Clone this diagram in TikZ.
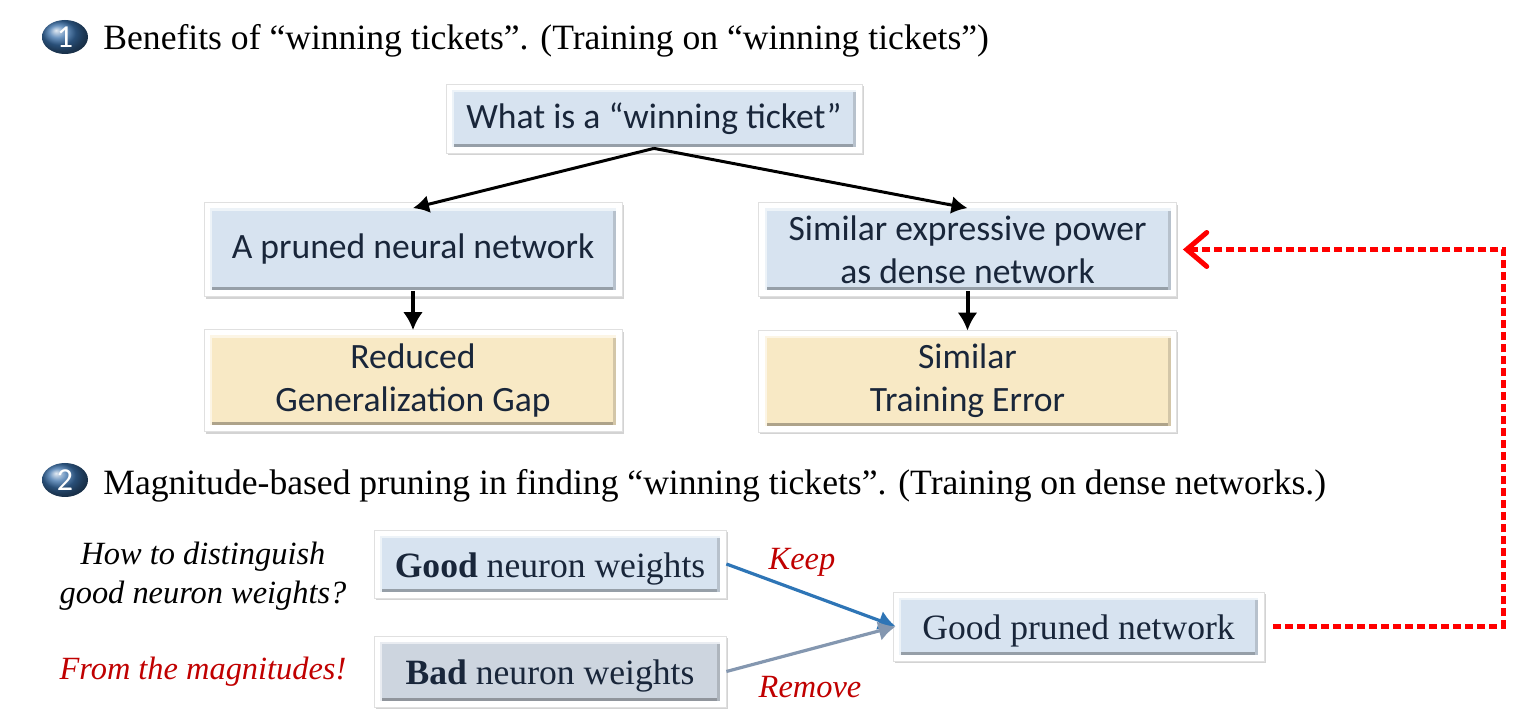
\documentclass[tikz,border=0pt]{standalone}
\usepackage{fontspec}
\setmainfont{Liberation Serif}
\newfontfamily\calfont{Carlito}
\usetikzlibrary{arrows.meta,shadows,shapes.geometric}

\definecolor{boxblue}{RGB}{215,227,240}
\definecolor{boxsand}{RGB}{248,233,197}
\definecolor{boxgrey}{RGB}{205,213,223}
\definecolor{inkblue}{RGB}{25,38,58}
\definecolor{keepblue}{RGB}{46,117,182}
\definecolor{dropgrey}{RGB}{132,151,176}
\definecolor{notered}{RGB}{192,0,0}
\definecolor{badgeblue}{RGB}{58,112,170}

\tikzset{
	panel/.style={fill=white, draw=black!12, inner sep=0pt,
		drop shadow={shadow xshift=0.8pt, shadow yshift=-1.2pt, opacity=0.35},
		path picture={
			\fill[#1] ([shift={(3pt,-3pt)}]path picture bounding box.north west) rectangle ([shift={(-3pt,3pt)}]path picture bounding box.south east);
			\fill[#1!70!black] ([shift={(3pt,3pt)}]path picture bounding box.south west) rectangle ([shift={(-3pt,4.5pt)}]path picture bounding box.south east);
			\fill[#1!85!black] ([shift={(-4.5pt,-3pt)}]path picture bounding box.north east) rectangle ([shift={(-3pt,3pt)}]path picture bounding box.south east);
			\fill[white!55!#1] ([shift={(3pt,-3pt)}]path picture bounding box.north west) rectangle ([shift={(-3pt,-4.2pt)}]path picture bounding box.north east);
			\fill[white!55!#1] ([shift={(3pt,-3pt)}]path picture bounding box.north west) rectangle ([shift={(4.2pt,3pt)}]path picture bounding box.south west);
		}},
	calbox/.style={panel=#1, text=inkblue, align=center, font=\calfont\fontsize{17.8}{21.5}\selectfont},
	romanbox/.style={panel=#1, text=inkblue, text height=17pt, text depth=3.9pt, font=\fontsize{17.8}{21}\selectfont},
	badge/.style={ellipse, ball color=badgeblue, inner sep=0pt, minimum width=23pt, minimum height=17pt, text=white, font=\calfont\fontsize{16}{16}\selectfont},
	heading/.style={anchor=base west, inner sep=0pt, font=\fontsize{17.8}{21}\selectfont},
	note/.style={align=center, font=\itshape\fontsize{16.2}{19.5}\selectfont},
	tree/.style={->, >={Latex[length=8pt,width=9pt]}, line width=1.5pt},
	down/.style={->, >={Latex[length=9pt,width=10pt]}, line width=2pt},
	merge/.style={->, >={Latex[length=8.5pt,width=10pt]}, line width=1.6pt},
	loopback/.style={->, >={Straight Barb[length=10pt,width=17pt,line cap=round]}, red, line width=2.5pt, dash pattern=on 4pt off 2pt}
}

\begin{document}
\begin{tikzpicture}[x=0.5pt, y=-0.5pt]
	\useasboundingbox (0,0) rectangle (1533,715);

	% part 1
	\node[badge] (num1) at (65,37) {1};
	\node[heading] (head1) at (103,50) {Benefits of “winning tickets”. (Training on “winning tickets”)};

	\node[calbox=boxblue, minimum width=208pt, minimum height=34.5pt] (ticket) at (654,118.5) {What is a “winning ticket”};
	\node[calbox=boxblue, minimum width=209pt, minimum height=47pt] (pruned) at (413,249.5) {A pruned neural network};
	\node[calbox=boxblue, minimum width=209pt, minimum height=47pt] (power) at (967.5,249.5) {Similar expressive power\\as dense network};
	\node[calbox=boxsand, minimum width=209pt, minimum height=51pt] (gap) at (413,380.5) {Reduced\\Generalization Gap};
	\node[calbox=boxsand, minimum width=209pt, minimum height=51pt] (error) at (967.5,381) {Similar\\Training Error};

	\draw[tree] ([yshift=2.5pt]ticket.south) -- ([yshift=-3pt]pruned.north);
	\draw[tree] ([yshift=2.5pt]ticket.south) -- ([yshift=-3pt]power.north);
	\draw[down] ([yshift=3pt]pruned.south) -- ([yshift=-0.5pt]gap.north);
	\draw[down] ([yshift=3pt]power.south) -- ([yshift=-0.5pt]error.north);

	% part 2
	\node[badge] (num2) at (65,480) {2};
	\node[heading] (head2) at (103,495) {Magnitude-based pruning in finding “winning tickets”. (Training on dense networks.)};

	\node[note] (ask) at (203,576) {How to distinguish\\good neuron weights?};
	\node[note, text=notered] (answer) at (203,672) {From the magnitudes!};

	\node[romanbox=boxblue, minimum width=176pt, minimum height=34pt] (good) at (550,564) {\textbf{Good} neuron weights};
	\node[romanbox=boxgrey, minimum width=176pt, minimum height=35.5pt] (bad) at (550,671.5) {\textbf{Bad} neuron weights};
	\node[romanbox=boxblue, minimum width=185.5pt, minimum height=34.5pt] (goodnet) at (1078.5,626.5) {Good pruned network};

	\draw[merge, keepblue] (good.east) -- ([xshift=1.5pt]goodnet.west);
	\draw[merge, dropgrey] (bad.east) -- ([xshift=1.5pt]goodnet.west);
	\node[note, text=notered] (keep) at (802,562) {Keep};
	\node[note, text=notered] (remove) at (810,687) {Remove};

	\draw[loopback] ([xshift=4.5pt]goodnet.east) -- ++(230,0) |- ([xshift=3pt]power.east);
\end{tikzpicture}
\end{document}
